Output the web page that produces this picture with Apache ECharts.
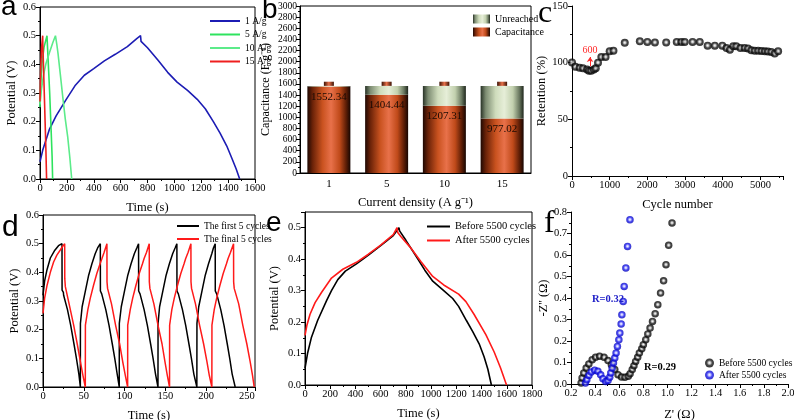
<!DOCTYPE html>
<html><head><meta charset="utf-8">
<script src="https://cdn.jsdelivr.net/npm/echarts@6/dist/echarts.min.js"></script>
<style>html,body{margin:0;padding:0;background:#fff}#c{width:794px;height:420px}</style>
</head><body><div id="c"></div>
<script>
// ---------- DATA ----------
// (a) GCD curves at different current densities: [time s, potential V]
const a1Ag = [[0,0.06],[20,0.1],[69,0.172],[120,0.22],[193,0.276],[260,0.325],[330,0.362],[400,0.385],[479,0.412],[560,0.435],[650,0.462],[720,0.49],[748,0.5],[752,0.48],[800,0.458],[880,0.413],[950,0.372],[1020,0.338],[1100,0.308],[1170,0.278],[1230,0.245],[1290,0.2],[1340,0.16],[1390,0.115],[1430,0.07],[1460,0.035],[1486,0]];
const a5Ag = [[0,0.25],[5,0.33],[15,0.404],[30,0.46],[52,0.5],[53,0.49],[62,0.4],[72,0.3],[82,0.18],[90,0.08],[94,0]];
const a10Ag = [[0,0.26],[10,0.31],[25,0.36],[45,0.404],[70,0.44],[95,0.475],[115,0.5],[125,0.47],[134,0.438],[150,0.37],[169,0.288],[188,0.21],[206,0.148],[222,0.075],[236,0]];
const a15Ag = [[0,0.27],[5,0.38],[12,0.46],[20,0.5],[21,0.47],[30,0.33],[38,0.2],[44,0.1],[49,0]];
const aNames = ['1 A/g','5 A/g','10 A/g','15 A/g'];

// (b) specific capacitance
const bCategories = ['1','5','10','15'];
const bCapacitance = [1552.34, 1404.44, 1207.31, 977.02];
const bFull = 1565;      // top of battery body
const bTerminal = 1640;  // top of battery terminal

// (c) cycling retention
const cCycles = [0,90,200,290,400,450,510,580,630,690,780,890,1000,1100,1400,1800,2000,2200,2500,2780,2900,2990,3200,3390,3600,3790,3990,4100,4190,4280,4360,4470,4580,4670,4760,4850,4940,5030,5120,5200,5290,5380,5470];
const cRetention = [100.2,96.4,95.5,95,94,92.8,92.8,94,95,100,105,105,110,110.5,117.5,118.8,118.3,117.8,117.8,118.3,118.3,118.3,118.3,118.3,115,115,115,113,111.5,114.5,114.5,113,113,112.5,111,110.5,110.5,110.3,110,109.8,109.5,108,110];

// (d) first / final 5 cycles: [time s, potential V]
const dFirst = [[0,0.32],[2,0.37],[5,0.41],[9,0.45],[14,0.475],[19,0.493],[23.3,0.5],[23.4,0.338],[25,0.33],[25.3,0.32],[30,0.27],[34,0.215],[38,0.15],[41,0.1],[44,0.045],[45.8,0],
 [45.9,0.222],[48,0.28],[52,0.335],[56,0.39],[60,0.43],[64,0.465],[67,0.485],[70.3,0.5],[70.4,0.335],[72,0.325],[72.3,0.32],[77,0.27],[81,0.215],[85,0.15],[88,0.1],[91,0.045],[93.5,0],
 [93.6,0.222],[96,0.28],[100,0.335],[104,0.39],[108,0.43],[112,0.465],[115,0.485],[117.2,0.5],[117.3,0.335],[119,0.325],[119.3,0.32],[124,0.27],[128,0.215],[132,0.15],[135,0.1],[138,0.045],[141,0],
 [141.1,0.222],[143,0.28],[147,0.335],[151,0.39],[155,0.43],[159,0.465],[162,0.485],[164.2,0.5],[164.3,0.335],[166,0.325],[166.3,0.32],[171,0.27],[175,0.215],[179,0.15],[182,0.1],[185,0.045],[188.7,0],
 [188.8,0.222],[191,0.28],[195,0.335],[199,0.39],[203,0.43],[207,0.465],[209,0.485],[211.2,0.5],[211.3,0.335],[213,0.325],[213.3,0.32],[218,0.27],[222,0.215],[226,0.15],[229,0.1],[232,0.045],[235.7,0]];
const dFinal = [[0,0.257],[2,0.31],[5,0.355],[9,0.4],[13,0.436],[17,0.46],[21,0.477],[24,0.49],[26.6,0.5],[26.7,0.378],[27.4,0.35],[32,0.29],[37.6,0.216],[42,0.15],[45.8,0.089],[49,0.04],[51.9,0],
 [52,0.216],[55,0.27],[58,0.31],[62,0.355],[66,0.396],[70,0.43],[72.3,0.448],[75,0.47],[78.4,0.5],[78.5,0.367],[79.2,0.344],[84,0.29],[89,0.216],[94,0.15],[97.7,0.089],[101,0.04],[103.8,0],
 [103.9,0.216],[107,0.27],[110,0.31],[114,0.355],[118,0.396],[122,0.43],[124,0.448],[127,0.47],[130.3,0.5],[130.4,0.367],[131.1,0.344],[136,0.29],[141,0.216],[146,0.15],[149.5,0.089],[152.5,0.04],[155.2,0],
 [155.3,0.216],[158,0.27],[161,0.31],[165,0.355],[169,0.396],[173,0.43],[175,0.448],[178,0.47],[181.4,0.5],[181.5,0.367],[182.2,0.344],[187,0.29],[192,0.216],[197,0.15],[201,0.089],[204,0.04],[207.1,0],
 [207.2,0.216],[210,0.27],[213,0.31],[217,0.355],[221,0.396],[225,0.43],[227,0.448],[230,0.47],[233.7,0.5],[233.8,0.367],[234.5,0.344],[240,0.29],[245,0.216],[250,0.15],[254,0.089],[257,0.04],[259,0]];

// (e) before / after 5500 cycles
const eBefore = [[0,0.053],[20,0.1],[50,0.15],[100,0.205],[171,0.268],[210,0.3],[260,0.335],[320,0.362],[408,0.385],[500,0.412],[600,0.443],[700,0.475],[745,0.5],[750,0.49],[800,0.46],[880,0.41],[950,0.365],[1013,0.33],[1100,0.3],[1171,0.275],[1218,0.25],[1280,0.205],[1330,0.17],[1381,0.131],[1420,0.09],[1450,0.05],[1478,0]];
const eAfter = [[0,0.158],[15,0.19],[40,0.225],[80,0.262],[132,0.295],[210,0.34],[300,0.368],[408,0.39],[500,0.415],[600,0.445],[700,0.478],[730,0.5],[735,0.485],[760,0.472],[830,0.44],[920,0.392],[1013,0.345],[1100,0.318],[1218,0.289],[1276,0.265],[1340,0.225],[1434,0.16],[1500,0.105],[1550,0.055],[1598,0]];

// (f) Nyquist plots
const fBeforeRe = [0.284,0.292,0.306,0.326,0.348,0.376,0.404,0.437,0.474,0.507,0.535,0.563,0.59,0.619,0.647,0.675,0.69,0.708,0.722,0.736,0.753,0.767,0.787,0.80,0.82,0.837,0.856,0.876,0.898,0.92,0.943,0.968,0.988,1.01,1.038];
const fBeforeIm = [0.005,0.028,0.051,0.074,0.093,0.113,0.124,0.129,0.124,0.109,0.09,0.067,0.043,0.033,0.031,0.036,0.048,0.067,0.085,0.105,0.124,0.144,0.164,0.183,0.206,0.233,0.26,0.291,0.327,0.369,0.423,0.48,0.555,0.645,0.749];
const fAfterRe = [0.32,0.331,0.348,0.368,0.396,0.423,0.446,0.465,0.488,0.507,0.521,0.53,0.541,0.552,0.563,0.574,0.585,0.597,0.605,0.616,0.622,0.633,0.641,0.655,0.669,0.689];
const fAfterIm = [0.005,0.02,0.04,0.056,0.064,0.059,0.043,0.025,0.012,0.016,0.031,0.051,0.074,0.098,0.121,0.144,0.175,0.206,0.237,0.279,0.322,0.384,0.454,0.54,0.64,0.764];

// ---------- CHART ----------
const FONT = 'Liberation Serif';
const G = echarts.graphic;
function fmt(step, dec){ return function(v){ const k=v/step; return Math.abs(k-Math.round(k))<1e-6 ? v.toFixed(dec) : ''; }; }
function valAxis(gi, min, max, step, dec, name, gap, extra){
  return Object.assign({
    type:'value', gridIndex:gi, min:min, max:max, interval:step,
    name:name, nameLocation:'middle', nameGap:gap,
    nameTextStyle:{fontFamily:FONT,fontSize:12.5,color:'#000'},
    axisLine:{show:true,onZero:false,lineStyle:{color:'#000',width:1}},
    axisTick:{show:true,inside:false,length:4,lineStyle:{color:'#000'}},
    minorTick:{show:true,splitNumber:2,length:2,lineStyle:{color:'#000'}},
    splitLine:{show:false}, minorSplitLine:{show:false},
    axisLabel:{fontFamily:FONT,fontSize:10.5,color:'#000',margin:4,formatter:fmt(step,dec),showMinLabel:true,showMaxLabel:true,hideOverlap:false}
  }, extra||{});
}
const boxed = {show:true,borderColor:'#000',borderWidth:1,backgroundColor:'transparent'};
const grids = [
  Object.assign({left:40, top:7, width:215, height:172, outerBoundsMode:'none'}, boxed),
  Object.assign({left:300, top:6, width:231, height:167, outerBoundsMode:'none'}, boxed),
  {left:572, top:6, width:211, height:170, outerBoundsMode:'none'},
  Object.assign({left:43, top:215, width:212, height:172, outerBoundsMode:'none'}, boxed),
  Object.assign({left:305, top:212, width:227, height:173, outerBoundsMode:'none'}, boxed),
  {left:571, top:212, width:217, height:172, outerBoundsMode:'none'}
];

const orangeGrad = new G.LinearGradient(0,0,1,0,[
  {offset:0,color:'#1e0803'},{offset:0.12,color:'#6a2208'},{offset:0.35,color:'#c9521f'},
  {offset:0.55,color:'#e8714a'},{offset:0.75,color:'#c04a1a'},{offset:0.9,color:'#5e1e06'},{offset:1,color:'#170602'}]);
const greenGrad = new G.LinearGradient(0,0,1,0,[
  {offset:0,color:'#283226'},{offset:0.12,color:'#7d8c72'},{offset:0.35,color:'#cfdcbc'},
  {offset:0.55,color:'#e6eed8'},{offset:0.75,color:'#c2d0ae'},{offset:0.9,color:'#6a7860'},{offset:1,color:'#1e261c'}]);
function sphere(c1,c2,c3){ return new G.RadialGradient(0.5,0.48,0.55,[
  {offset:0,color:'#ffffff'},{offset:0.25,color:c1},{offset:0.55,color:c2},{offset:1,color:c3}]); }
const blackSphere = sphere('#b8b8b8','#1a1a1a','#000000');
const blueSphere = sphere('#b0b0ff','#1818ee','#0000b0');

const lineS = (name, data, color, xi, w) => ({type:'line', name:name, data:data, xAxisIndex:xi, yAxisIndex:xi,
  showSymbol:false, symbol:'none', smooth:false, lineStyle:{color:color,width:w||1.6}, itemStyle:{color:color}, animation:false});

const legendText = {fontFamily:FONT,fontSize:10,color:'#000'};

const option = {
  animation:false,
  backgroundColor:'#fff',
  textStyle:{fontFamily:FONT},
  grid: grids,
  xAxis: [
    valAxis(0,0,1600,200,0,'Time (s)',22),
    {type:'category', gridIndex:1, data:bCategories, name:'Current density (A g\u207b\u00b9)', nameLocation:'middle', nameGap:23,
      nameTextStyle:{fontFamily:FONT,fontSize:12.5,color:'#000'},
      axisLine:{lineStyle:{color:'#000'}}, axisTick:{alignWithLabel:true,length:4,lineStyle:{color:'#000'}},
      axisLabel:{fontFamily:FONT,fontSize:11,color:'#000',margin:6}},
    valAxis(2,0,5600,1000,0,'Cycle number',22),
    valAxis(3,0,260,50,0,'Time (s)',22),
    valAxis(4,0,1800,200,0,'Time (s)',22),
    valAxis(5,0.2,2.0,0.2,1,"Z' (\u03a9)",24)
  ],
  yAxis: [
    valAxis(0,0,0.6,0.1,1,'Potential (V)',22),
    valAxis(1,0,3000,200,0,'Capacitance (F g\u207b\u00b9)',28,{nameTextStyle:{fontFamily:FONT,fontSize:12,color:'#000'},axisLabel:{fontFamily:FONT,fontSize:9.5,color:'#000',margin:3,formatter:fmt(200,0),showMinLabel:true,showMaxLabel:true,hideOverlap:false}}),
    valAxis(2,0,150,50,0,'Retention (%)',17),
    valAxis(3,0,0.6,0.1,1,'Potential (V)',22),
    valAxis(4,0,0.55,0.1,1,'Potential (V)',24),
    valAxis(5,0,0.8,0.1,1,"-Z'' (\u03a9)",18)
  ],
  legend: [
    {data:aNames, orient:'vertical', left:205, top:11, itemWidth:30, itemHeight:2, itemGap:3.5, icon:'rect', textStyle:{fontFamily:FONT,fontSize:9.5,color:'#000'}},
    {data:['Unreached','Capacitance'], orient:'vertical', left:468, top:9, itemWidth:17, itemHeight:9, itemGap:3, icon:'rect', textStyle:legendText},
    {data:['The first 5 cycles','The final 5 cycles'], orient:'vertical', left:172, top:216, itemWidth:22, itemHeight:2, itemGap:3, icon:'rect', textStyle:{fontFamily:FONT,fontSize:9.5,color:'#000'}},
    {data:['Before 5500 cycles','After 5500 cycles'], orient:'vertical', left:422, top:216, itemWidth:23, itemHeight:2, itemGap:3, icon:'rect', textStyle:{fontFamily:FONT,fontSize:10.5,color:'#000'}},
    {data:['Before 5500 cycles ','After 5500 cycles '], orient:'vertical', left:700, top:353, itemWidth:9, itemHeight:9, itemGap:2, icon:'circle', textStyle:{fontFamily:FONT,fontSize:9.5,color:'#000'}}
  ],
  series: [
    lineS('1 A/g', a1Ag, '#1c1cb4', 0),
    lineS('5 A/g', a5Ag, '#2ee35e', 0),
    lineS('10 A/g', a10Ag, '#5ceb8a', 0),
    lineS('15 A/g', a15Ag, '#ee1f1f', 0),
    {type:'bar', name:'Capacitance', xAxisIndex:1, yAxisIndex:1, stack:'bat', barWidth:43, data:bCapacitance,
      itemStyle:{color:orangeGrad},
      label:{show:true, position:'insideTop', distance:5, color:'#1a0a04', fontFamily:FONT, fontSize:11, formatter:p=>p.value.toFixed(2)}},
    {type:'bar', name:'Unreached', xAxisIndex:1, yAxisIndex:1, stack:'bat', barWidth:43, data:bCapacitance.map(v=>bFull-v),
      itemStyle:{color:greenGrad}},
    {type:'custom', name:'terminal', xAxisIndex:1, yAxisIndex:1, encode:{x:0,y:[1,2]},
      data:bCategories.map((c,i)=>[i,bFull,bTerminal]),
      renderItem:function(params, api){
        const p0 = api.coord([api.value(0), api.value(1)]);
        const p1 = api.coord([api.value(0), api.value(2)]);
        const w = 10;
        return {type:'rect', shape:{x:p0[0]-w/2, y:p1[1], width:w, height:p0[1]-p1[1]},
          style:{fill:new G.LinearGradient(0,0,1,0,[{offset:0,color:'#3a1204'},{offset:0.5,color:'#e8714a'},{offset:1,color:'#3a1204'}])}};
      }},
    {type:'scatter', name:'Retention', xAxisIndex:2, yAxisIndex:2, symbol:'circle', symbolSize:8,
      data:cCycles.map((c,i)=>[c,cRetention[i]]), itemStyle:{color:blackSphere},
      markLine:{silent:true, symbol:['none','arrow'], symbolSize:5, animation:false,
        lineStyle:{color:'#ff2a2a',width:1,type:'solid'},
        label:{show:true, position:'end', formatter:'600', color:'#ff2a2a', fontFamily:FONT, fontSize:10, distance:2},
        data:[[{coord:[480,96.8]},{coord:[480,105]}]]}},
    lineS('The first 5 cycles', dFirst, '#000000', 3, 1.5),
    lineS('The final 5 cycles', dFinal, '#ff1a1a', 3, 1.5),
    lineS('Before 5500 cycles', eBefore, '#000000', 4, 1.6),
    lineS('After 5500 cycles', eAfter, '#ff1a1a', 4, 1.6),
    {type:'scatter', name:'Before 5500 cycles ', xAxisIndex:5, yAxisIndex:5, symbol:'circle', symbolSize:7.5,
      data:fBeforeRe.map((x,i)=>[x,fBeforeIm[i]]), itemStyle:{color:blackSphere},
      markPoint:{symbol:'rect', symbolSize:1, itemStyle:{color:'rgba(0,0,0,0)'}, animation:false,
        data:[
          {coord:[0.507,0.395], label:{show:true, formatter:'R=0.32', color:'#2020c8', fontWeight:'bold', fontFamily:FONT, fontSize:10.5}},
          {coord:[0.938,0.079], label:{show:true, formatter:'R=0.29', color:'#000', fontWeight:'bold', fontFamily:FONT, fontSize:10.5}}
        ]}},
    {type:'scatter', name:'After 5500 cycles ', xAxisIndex:5, yAxisIndex:5, symbol:'circle', symbolSize:7.5,
      data:fAfterRe.map((x,i)=>[x,fAfterIm[i]]), itemStyle:{color:blueSphere}}
  ],
  graphic: [
    {type:'text', style:{x:1, y:21, text:'a', font:'28px "Liberation Sans"', fill:'#000', verticalAlign:'bottom'}},
    {type:'text', style:{x:262, y:24, text:'b', font:'28px "Liberation Sans"', fill:'#000', verticalAlign:'bottom'}},
    {type:'text', style:{x:538, y:30, text:'c', font:'32px "Liberation Serif"', fill:'#000', verticalAlign:'bottom'}},
    {type:'text', style:{x:2, y:243, text:'d', font:'30px "Liberation Sans"', fill:'#000', verticalAlign:'bottom'}},
    {type:'text', style:{x:266, y:237, text:'e', font:'28px "Liberation Sans"', fill:'#000', verticalAlign:'bottom'}},
    {type:'text', style:{x:544, y:240, text:'f', font:'32px "Liberation Serif"', fill:'#000', verticalAlign:'bottom'}}
  ]
};
const chart = echarts.init(document.getElementById('c'), null, {renderer:'canvas'});
chart.setOption(option);
</script>
</body></html>
